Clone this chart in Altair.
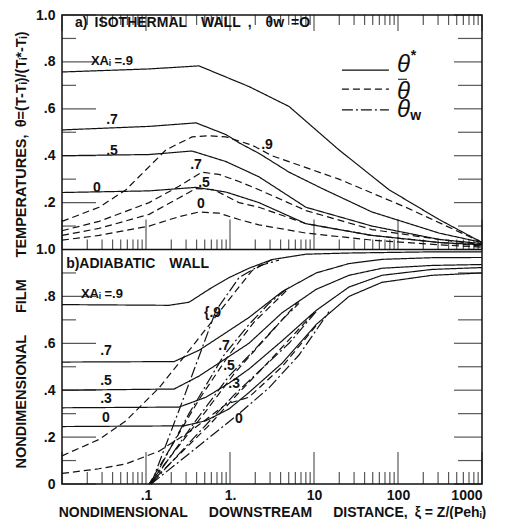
import altair as alt
import pandas as pd

# ---------------- data (xi = downstream distance, v = theta) -------------
# a) isothermal wall  -- solid theta*, dashed theta-bar
a_s90_xi = [0.01, 0.109, 0.427, 1.68, 5.04, 19.8, 78, 308, 1000]
a_s90_v = [0.757, 0.77, 0.783, 0.695, 0.61, 0.425, 0.255, 0.128, 0.03]
a_s70_xi = [0.01, 0.109, 0.394, 0.896, 1.28, 2.21, 5.04, 12.5, 49, 308, 1000]
a_s70_v = [0.51, 0.525, 0.54, 0.49, 0.455, 0.41, 0.33, 0.26, 0.16, 0.07, 0.03]
a_s50_xi = [0.01, 0.109, 0.353, 0.896, 2.21, 8.03, 49, 308, 1000]
a_s50_v = [0.40, 0.405, 0.42, 0.375, 0.31, 0.18, 0.10, 0.043, 0.025]
a_s0_xi = [0.01, 0.109, 0.394, 0.896, 2.21, 8.03, 49, 308, 1000]
a_s0_v = [0.243, 0.25, 0.265, 0.245, 0.2, 0.11, 0.06, 0.03, 0.02]
a_d90_xi = [0.01, 0.0276, 0.0578, 0.173, 0.353, 0.562, 0.896, 1.83, 3.16, 19.8, 124, 1000]
a_d90_v = [0.12, 0.18, 0.255, 0.425, 0.48, 0.485, 0.48, 0.445, 0.40, 0.30, 0.18, 0.03]
a_d70_xi = [0.01, 0.0276, 0.109, 0.247, 0.464, 0.74, 1.28, 2.21, 8.03, 49, 308, 1000]
a_d70_v = [0.08, 0.12, 0.20, 0.27, 0.33, 0.32, 0.29, 0.255, 0.166, 0.085, 0.043, 0.02]
a_d50_xi = [0.01, 0.0276, 0.109, 0.247, 0.394, 0.645, 1.28, 2.21, 8.03, 49, 308, 1000]
a_d50_v = [0.06, 0.09, 0.15, 0.22, 0.26, 0.255, 0.2, 0.18, 0.11, 0.06, 0.03, 0.015]
a_d0_xi = [0.01, 0.0276, 0.109, 0.247, 0.427, 0.74, 1.28, 2.21, 8.03, 49, 308, 1000]
a_d0_v = [0.04, 0.06, 0.10, 0.14, 0.16, 0.155, 0.128, 0.105, 0.07, 0.04, 0.02, 0.01]

# b) adiabatic wall -- solid theta*, dashed theta-bar, dash-dot theta_w
b_s90_xi = [0.01, 0.188, 0.325, 0.562, 0.973, 1.68, 3.16, 8.03, 26.1, 254, 1000]
b_s90_v = [0.765, 0.762, 0.775, 0.83, 0.88, 0.92, 0.957, 0.98, 0.985, 0.99, 0.99]
b_s70_xi = [0.01, 0.216, 0.427, 0.849, 1.68, 4.16, 10.6, 26.1, 64.5, 254, 1000]
b_s70_v = [0.52, 0.522, 0.57, 0.64, 0.71, 0.82, 0.90, 0.94, 0.958, 0.965, 0.966]
b_s50_xi = [0.01, 0.216, 0.427, 0.849, 1.68, 4.16, 10.6, 26.1, 64.5, 254, 1000]
b_s50_v = [0.40, 0.405, 0.46, 0.53, 0.60, 0.73, 0.83, 0.89, 0.92, 0.932, 0.936]
b_s30_xi = [0.01, 0.247, 0.518, 0.973, 1.68, 4.16, 10.6, 26.1, 64.5, 254, 1000]
b_s30_v = [0.325, 0.328, 0.37, 0.43, 0.49, 0.61, 0.74, 0.84, 0.89, 0.915, 0.923]
b_s0_xi = [0.01, 0.283, 0.518, 0.973, 1.68, 4.16, 10.6, 26.1, 64.5, 254, 1000]
b_s0_v = [0.245, 0.248, 0.27, 0.32, 0.39, 0.515, 0.68, 0.80, 0.86, 0.89, 0.90]
b_d90_xi = [0.01, 0.0276, 0.0578, 0.143, 0.353, 0.896, 1.83, 3.16]
b_d90_v = [0.12, 0.19, 0.27, 0.41, 0.585, 0.77, 0.91, 0.957]
b_d0_xi = [0.01, 0.0276, 0.0578, 0.143, 0.353, 0.896, 1.68, 4.16, 10.6]
b_d0_v = [0.045, 0.065, 0.086, 0.14, 0.23, 0.34, 0.37, 0.50, 0.675]
b_d70_xi = [0.109, 0.427, 0.973, 1.93, 5.04]
b_d70_v = [0.0, 0.36, 0.55, 0.69, 0.835]
b_d50_xi = [0.109, 0.49, 1.12, 2.21, 6.63]
b_d50_v = [0.0, 0.30, 0.47, 0.59, 0.78]
b_d30_xi = [0.109, 0.562, 1.28, 2.54, 10.6]
b_d30_v = [0.0, 0.25, 0.39, 0.50, 0.74]
b_w90_xi = [0.115, 0.283, 0.681, 1.28, 2.21, 3.83]
b_w90_v = [0.0, 0.37, 0.74, 0.88, 0.93, 0.955]
b_w70_xi = [0.115, 0.325, 0.849, 1.68, 2.91, 5.04]
b_w70_v = [0.0, 0.30, 0.55, 0.68, 0.77, 0.84]
b_w50_xi = [0.115, 0.373, 0.973, 1.93, 4.16, 6.63]
b_w50_v = [0.0, 0.26, 0.46, 0.57, 0.70, 0.77]
b_w30_xi = [0.115, 0.427, 1.12, 2.21, 5.04, 10.6]
b_w30_v = [0.0, 0.22, 0.38, 0.48, 0.60, 0.735]
b_w0_xi = [0.115, 0.49, 1.28, 2.91, 6.63, 15.1]
b_w0_v = [0.0, 0.18, 0.30, 0.41, 0.55, 0.735]

curves = [
    ("a_s90", 1, "solid", a_s90_xi, a_s90_v), ("a_s70", 1, "solid", a_s70_xi, a_s70_v),
    ("a_s50", 1, "solid", a_s50_xi, a_s50_v), ("a_s0", 1, "solid", a_s0_xi, a_s0_v),
    ("a_d90", 1, "dash", a_d90_xi, a_d90_v), ("a_d70", 1, "dash", a_d70_xi, a_d70_v),
    ("a_d50", 1, "dash", a_d50_xi, a_d50_v), ("a_d0", 1, "dash", a_d0_xi, a_d0_v),
    ("b_s90", 0, "solid", b_s90_xi, b_s90_v), ("b_s70", 0, "solid", b_s70_xi, b_s70_v),
    ("b_s50", 0, "solid", b_s50_xi, b_s50_v), ("b_s30", 0, "solid", b_s30_xi, b_s30_v),
    ("b_s0", 0, "solid", b_s0_xi, b_s0_v),
    ("b_d90", 0, "dash", b_d90_xi, b_d90_v), ("b_d0", 0, "dash", b_d0_xi, b_d0_v),
    ("b_d70", 0, "dash", b_d70_xi, b_d70_v), ("b_d50", 0, "dash", b_d50_xi, b_d50_v),
    ("b_d30", 0, "dash", b_d30_xi, b_d30_v),
    ("b_w90", 0, "dashdot", b_w90_xi, b_w90_v), ("b_w70", 0, "dashdot", b_w70_xi, b_w70_v),
    ("b_w50", 0, "dashdot", b_w50_xi, b_w50_v), ("b_w30", 0, "dashdot", b_w30_xi, b_w30_v),
    ("b_w0", 0, "dashdot", b_w0_xi, b_w0_v),
]

# legend samples (in the upper panel)
legend_styles = ["solid", "dash", "dashdot"]
legend_xi = [21.5, 78]
legend_v = [0.765, 0.684, 0.595]
legend_bar_xi = [100, 128]
legend_bar_v = 0.726

SP = "\u2002"  # en space (plain runs of spaces collapse in SVG text)

# annotations: text, xi, theta, panel offset
ann_head = [("a)" + SP + "ISOTHERMAL" + SP * 2 + "WALL" + SP + "," + SP * 2 + "θw" + SP + "=O", 0.0143, 0.966, 1),
            ("b)ADIABATIC" + SP * 2 + "WALL", 0.0112, 0.938, 0)]
ann_left = [("XAᵢ =.9", 0.0221, 0.804, 1), ("XAᵢ =.9", 0.0168, 0.81, 0)]
ann_small = [
    (".7", 0.0394, 0.552, 1), (".5", 0.0394, 0.42, 1), ("0", 0.0261, 0.262, 1),
    (".9", 2.76, 0.446, 1), (".7", 0.394, 0.36, 1), (".5", 0.49, 0.284, 1), ("0", 0.451, 0.194, 1),
    (".7", 0.0334, 0.567, 0), (".5", 0.0334, 0.439, 0), (".3", 0.0334, 0.362, 0), ("0", 0.0334, 0.281, 0),
    ("{.9", 0.62, 0.729, 0), (".7", 0.849, 0.588, 0), (".5", 0.973, 0.503, 0), (".3", 1.12, 0.426, 0),
    ("0", 1.28, 0.277, 0),
]
legend_sym = [("θ", 97, 0.785), ("θ", 97, 0.672), ("θ", 97, 0.595)]
legend_sup = [("*", 142, 0.825), ("w", 140, 0.568)]

x_title = "NONDIMENSIONAL" + SP * 3 + "DOWNSTREAM" + SP * 3 + "DISTANCE," + SP + "ξ = Z/(Pehᵢ)"
y_title = "NONDIMENSIONAL" + SP * 3 + "FILM" + SP * 3 + "TEMPERATURES," + SP + "θ=(T-Tᵢ)/(Tᵢ*-Tᵢ)"

x_major = [0.01, 0.1, 1, 10, 100, 1000]
x_minor = [m * 10 ** d for d in range(-2, 3) for m in range(2, 10)]
y_major = [round(0.2 * k, 1) for k in range(0, 11)]
y_minor = [round(0.1 + 0.2 * k, 1) for k in range(0, 10)]

# ---------------- build tables ----------------
rows = []
for name, off, style, xs, vs in curves:
    for i, (x, v) in enumerate(zip(xs, vs)):
        rows.append({"curve": name, "off": off, "style": style, "xi": x, "v": v, "i": i})
lines_df = pd.DataFrame(rows)

leg_rows = []
for style, v in zip(legend_styles, legend_v):
    for i, x in enumerate(legend_xi):
        leg_rows.append({"curve": "leg_" + style, "off": 1, "style": style, "xi": x, "v": v, "i": i})
for i, x in enumerate(legend_bar_xi):
    leg_rows.append({"curve": "leg_bar", "off": 1, "style": "solid", "xi": x, "v": legend_bar_v, "i": i})
leg_df = pd.DataFrame(leg_rows)


def tdf(lst):
    return pd.DataFrame([{"t": t, "xi": x, "v": v, "off": o} for t, x, v, o in lst])


xscale = alt.Scale(type="log", domain=[0.01, 1000], nice=False)
yscale = alt.Scale(domain=[0, 2], nice=False, zero=False)
dash_scale = alt.Scale(domain=["solid", "dash", "dashdot"], range=[[1, 0], [7, 4], [11, 3, 2, 3]])

ylabel = ("datum.value == 0 ? '0' : (datum.value == 1 || datum.value == 2) ? '1.0' : "
          "replace(format(datum.value > 1 ? datum.value - 1 : datum.value, '.1f'), '0.', '.')")
xlabel = "datum.value < 0.5 ? '.1' : datum.value < 5 ? '1.' : format(datum.value, 'd')"

X_AXIS = alt.Axis(values=[0.1, 1, 10, 100, 1000], labelExpr=xlabel, title=x_title,
                  labelPadding=4, titlePadding=3, titleFontSize=14)
Y_AXIS = alt.Axis(values=y_major, labelExpr=ylabel, title=y_title,
                  labelPadding=7, titlePadding=7, titleFontSize=14.5)


def X(field):
    return alt.X(field, scale=xscale, axis=X_AXIS)


def Y(field):
    return alt.Y(field, scale=yscale, axis=Y_AXIS)


main = alt.Chart(lines_df).transform_calculate(y="datum.v + datum.off").mark_line(
    color="#111", strokeWidth=1.2
).encode(
    x=X("xi:Q"), y=Y("y:Q"), detail="curve:N", order="i:Q",
    strokeDash=alt.StrokeDash("style:N", scale=dash_scale, legend=None),
)

legend_lines = alt.Chart(leg_df).transform_calculate(y="datum.v + datum.off").mark_line(
    color="#111", strokeWidth=1.2).encode(
    x=X("xi:Q"), y=Y("y:Q"), detail="curve:N", order="i:Q",
    strokeDash=alt.StrokeDash("style:N", scale=dash_scale, legend=None))

divider = alt.Chart(pd.DataFrame({"y": [1.0]})).mark_rule(color="#111", strokeWidth=1.5).encode(
    y=Y("y:Q"))


def xticks(vals, ypos, size, off):
    return alt.Chart(pd.DataFrame({"xi": vals})).mark_tick(
        orient="vertical", size=size, thickness=1.2, color="#111", yOffset=off
    ).encode(x=X("xi:Q"), y=alt.datum(ypos))


def yticks(vals, xpos, size, off):
    return alt.Chart(pd.DataFrame({"y": vals})).mark_tick(
        orient="horizontal", size=size, thickness=1.2, color="#111", xOffset=off
    ).encode(y=Y("y:Q"), x=alt.datum(xpos))


tick_layers = [
    xticks(x_major, 0, 32, -16), xticks(x_minor, 0, 12, -6),
    xticks(x_major, 1, 30, -15), xticks(x_minor, 1, 10, -5),
    xticks(x_major, 2, 16, 8), xticks(x_minor, 2, 10, 5),
    yticks(y_major, 0.01, 34, 17), yticks(y_minor, 0.01, 14, 7),
    yticks(y_major, 1000, 28, -14), yticks(y_minor, 1000, 24, -12),
]


def text_layer(lst, weight="bold", **kw):
    return alt.Chart(tdf(lst)).transform_calculate(y="datum.v + datum.off").mark_text(
        color="#111", font="Liberation Sans", fontWeight=weight, baseline="middle", **kw
    ).encode(x=X("xi:Q"), y=Y("y:Q"), text="t:N")


heads = text_layer(ann_head, align="left", fontSize=14)
lefts = text_layer(ann_left, align="left", fontSize=13)
smalls = text_layer(ann_small, align="center", fontSize=14)
sym = text_layer([(t, x, v, 1) for t, x, v in legend_sym], weight="normal", align="left",
                 fontSize=24, fontStyle="italic")
sup = text_layer([(t, x, v, 1) for t, x, v in legend_sup], align="left", fontSize=14)

chart = alt.layer(main, legend_lines, divider, *tick_layers, heads, lefts, smalls, sym, sup).properties(
    width=420, height=469, background="white",
    padding={"left": 5, "top": 0, "right": 5, "bottom": 0},
).configure_view(stroke="#111", strokeWidth=1.5).configure_axis(
    grid=False, domain=False, ticks=False,
    labelFont="Liberation Sans", labelFontWeight="bold", labelFontSize=14, labelColor="#111",
    titleFont="Liberation Sans", titleFontWeight="bold", titleColor="#111",
)

chart.save("out.html", embed_options={"renderer": "svg", "actions": False})
